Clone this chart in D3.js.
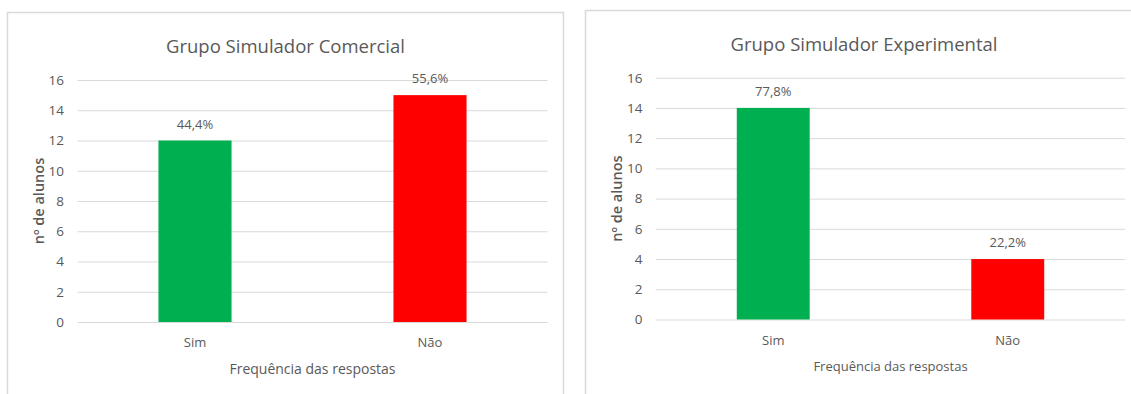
<!DOCTYPE html>
<html>
<head>
<meta charset="utf-8">
<script src="https://cdn.jsdelivr.net/npm/d3@7"></script>
<style>
  html, body { margin: 0; padding: 0; background: #ffffff; }
  svg { display: block; }
  text { font-family: "Open Sans", "Noto Sans", sans-serif; fill: #595959; }
</style>
</head>
<body>
<svg id="chart" width="1131" height="394"></svg>
<script>
// ---- data ----
const categories = ["Sim", "Não"];
const comercialValues = [12, 15];
const experimentalValues = [14, 4];
const comercialLabels = ["44,4%", "55,6%"];
const experimentalLabels = ["77,8%", "22,2%"];
const yTicks = [0, 2, 4, 6, 8, 10, 12, 14, 16];
const barColors = ["#00B050", "#FF0000"];
const titles = ["Grupo Simulador Comercial", "Grupo Simulador Experimental"];
const xAxisTitle = "Frequência das respostas";
const yAxisTitle = "nº de alunos";

// ---- layout ----
const panels = [
  { title: titles[0], values: comercialValues, labels: comercialLabels,
    box: { x: 7.5, y: 12.5, w: 556, h: 420 },
    plot: { left: 77.5, right: 547.5, top: 80, bottom: 322 }, titleCx: 285.5, axisTitleSize: 14 },
  { title: titles[1], values: experimentalValues, labels: experimentalLabels,
    box: { x: 585.5, y: 10.5, w: 560, h: 420 },
    plot: { left: 656, right: 1125, top: 77.7, bottom: 319.5 }, titleCx: 864, axisTitleSize: 13 }
];

const svg = d3.select("#chart");
svg.append("rect").attr("width", 1131).attr("height", 394).attr("fill", "#ffffff");

panels.forEach(p => {
  const g = svg.append("g");
  // chart border
  g.append("rect")
    .attr("x", p.box.x).attr("y", p.box.y)
    .attr("width", p.box.w).attr("height", p.box.h)
    .attr("fill", "#ffffff").attr("stroke", "#d9d9d9").attr("stroke-width", 1.5);

  const W = p.plot.right - p.plot.left;
  const x = d3.scaleBand().domain(categories)
    .range([p.plot.left, p.plot.right])
    .paddingInner(0.689).paddingOuter(0.3445);
  const y = d3.scaleLinear().domain([0, 16]).range([p.plot.bottom, p.plot.top]);

  // gridlines + y tick labels
  const yAxis = g.append("g")
    .attr("transform", `translate(${p.plot.left},0)`)
    .call(d3.axisLeft(y).tickValues(yTicks).tickSize(-W).tickPadding(13.5).tickFormat(d3.format("d")));
  yAxis.select(".domain").remove();
  yAxis.selectAll(".tick line").attr("stroke", "#d9d9d9").attr("stroke-width", 1);
  yAxis.selectAll(".tick text")
    .attr("fill", "#595959").style("font-size", "13.5px")
    .style("font-family", "'Open Sans', 'Noto Sans', sans-serif");

  // bars
  g.selectAll("rect.bar").data(p.values).enter().append("rect")
    .attr("class", "bar")
    .attr("x", (d, i) => x(categories[i]))
    .attr("width", x.bandwidth())
    .attr("y", d => y(d))
    .attr("height", d => y(0) - y(d))
    .attr("fill", (d, i) => barColors[i]);

  // data labels
  g.selectAll("text.lbl").data(p.values).enter().append("text")
    .attr("class", "lbl")
    .attr("x", (d, i) => x(categories[i]) + x.bandwidth() / 2)
    .attr("y", d => y(d) - 16.5)
    .attr("dy", "0.35em")
    .attr("text-anchor", "middle")
    .style("font-size", "13px")
    .text((d, i) => p.labels[i]);

  // x axis
  const xAxis = g.append("g")
    .attr("transform", `translate(0,${p.plot.bottom})`)
    .call(d3.axisBottom(x).tickSize(0).tickPadding(16));
  xAxis.select(".domain").remove();
  xAxis.selectAll(".tick text")
    .attr("fill", "#595959").style("font-size", "13px")
    .style("font-family", "'Open Sans', 'Noto Sans', sans-serif");

  // title
  g.append("text")
    .attr("x", p.titleCx).attr("y", p.box.y + 40)
    .attr("text-anchor", "middle")
    .style("font-size", "18.5px")
    .text(p.title);

  // x axis title
  g.append("text")
    .attr("x", (p.plot.left + p.plot.right) / 2)
    .attr("y", p.plot.bottom + 47)
    .attr("dy", "0.35em")
    .attr("text-anchor", "middle")
    .style("font-size", p.axisTitleSize + "px")
    .text(xAxisTitle);

  // y axis title
  g.append("text")
    .attr("transform", `translate(${p.plot.left - 39},${(p.plot.top + p.plot.bottom) / 2}) rotate(-90)`)
    .attr("dy", "0.35em")
    .attr("text-anchor", "middle")
    .style("font-size", "14.5px")
    .style("font-weight", "600")
    .text(yAxisTitle);
});
</script>
</body>
</html>
